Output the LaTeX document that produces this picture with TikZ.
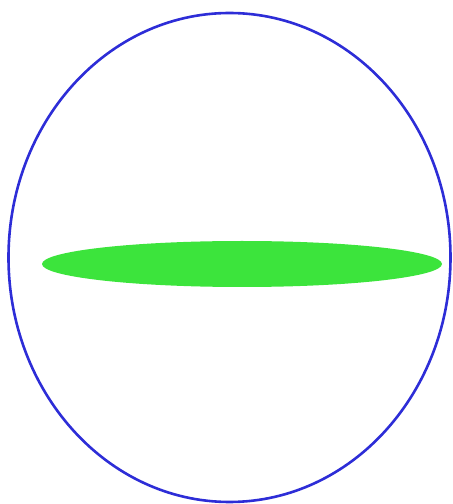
\documentclass[tikz,border=0pt]{standalone}
\definecolor{ringblue}{RGB}{45,45,215}
\definecolor{discgreen}{RGB}{60,228,60}
\begin{document}
\begin{tikzpicture}[x=1pt,y=1pt]
\useasboundingbox (0,0) rectangle (453,504);
\tikzset{ring/.style={draw=ringblue,line width=2.6pt},disc/.style={fill=discgreen}}
\draw[ring] (229.5,246.5) ellipse [x radius=221, y radius=244.5];
\fill[disc] (242,240) ellipse [x radius=200, y radius=23];
\end{tikzpicture}
\end{document}
